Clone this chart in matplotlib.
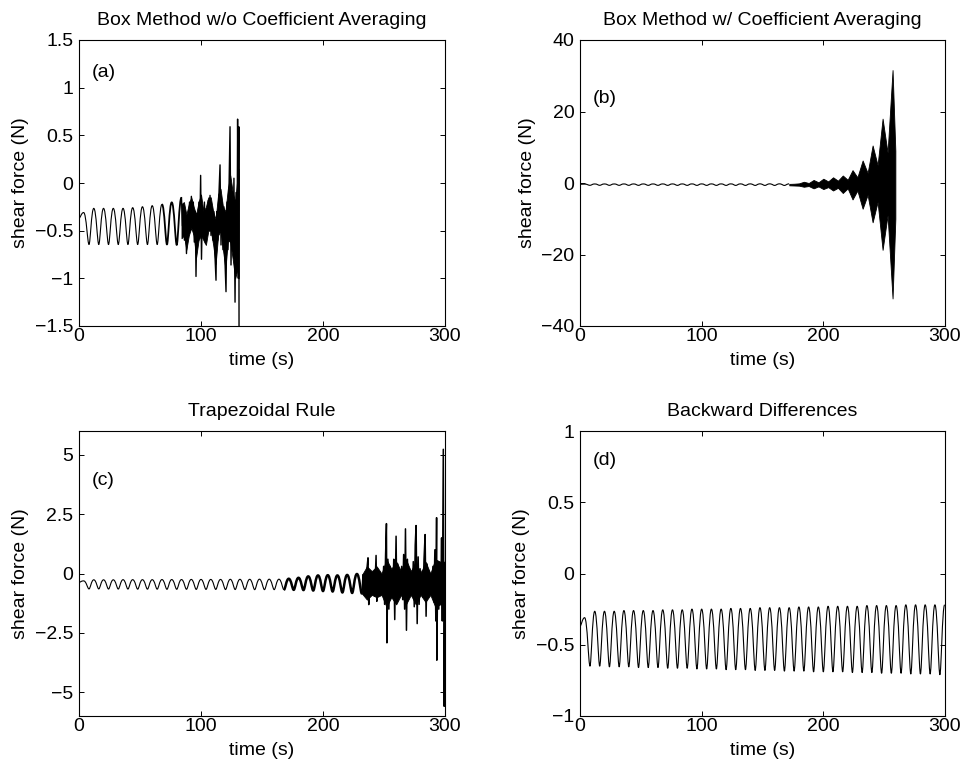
import numpy as np
import matplotlib
matplotlib.use("Agg")
import matplotlib.pyplot as plt
from matplotlib.path import Path
from matplotlib.patches import PathPatch

plt.rcParams['font.family'] = ['Liberation Sans', 'DejaVu Sans']
plt.rcParams['font.size'] = 14

# ---------------- data ----------------
# regular oscillation (Backward Differences), extrema times / values
base_peak_t = [0.0, 3.8, 12.1, 20.1, 28.1, 36.1, 44.0, 52.0, 60.0, 68.0, 76.0, 84.0,
               92.0, 100.0, 108.0, 116.0, 124.0, 131.9, 139.9, 147.9, 155.9, 163.9,
               171.9, 179.9, 187.9, 195.9, 203.9, 211.8, 219.8, 227.8, 235.8, 243.8,
               251.8, 259.8, 267.8, 275.8, 283.7, 291.7, 299.7]
base_peak_v = [-0.37, -0.31,
               -0.265, -0.265, -0.265, -0.26, -0.26, -0.26, -0.26, -0.255, -0.255,
               -0.255, -0.25, -0.25, -0.25, -0.25, -0.245, -0.245, -0.245, -0.24,
               -0.24, -0.24, -0.24, -0.235, -0.235, -0.235, -0.23, -0.23, -0.23,
               -0.23, -0.225, -0.225, -0.225, -0.225, -0.22, -0.22, -0.22, -0.22, -0.22]
base_trough_t = [8.2, 16.2, 24.2, 32.2, 40.1, 48.1, 56.1, 64.1, 72.1, 80.1, 88.1,
                 96.1, 104.1, 112.1, 120.1, 128.0, 136.0, 144.0, 152.0, 160.0, 168.0,
                 176.0, 184.0, 192.0, 200.0, 207.9, 215.9, 223.9, 231.9, 239.9, 247.9,
                 255.9, 263.9, 271.9, 279.8, 287.8, 295.8]
base_trough_v = [-0.65, -0.65, -0.655, -0.655, -0.655, -0.66, -0.66, -0.66, -0.665,
                 -0.665, -0.665, -0.67, -0.67, -0.67, -0.675, -0.675, -0.675, -0.68,
                 -0.68, -0.68, -0.685, -0.685, -0.685, -0.69, -0.69, -0.69, -0.69,
                 -0.695, -0.695, -0.695, -0.70, -0.70, -0.70, -0.705, -0.705, -0.705,
                 -0.71]

# (a) Box method w/o averaging
a_t = [0.0, 3.8, 8.2, 12.1, 16.2, 20.1, 24.2, 28.1, 32.2, 36.1, 40.1, 44.0, 48.1,
       52.0, 56.1, 60.0, 64.1, 68.0, 72.1, 76.0, 80.1, 84.0]
a_v = [-0.37, -0.31, -0.645, -0.266, -0.645, -0.266, -0.645, -0.266, -0.645, -0.266,
       -0.645, -0.259, -0.645, -0.249, -0.645, -0.238, -0.645, -0.224, -0.645, -0.203,
       -0.65, -0.154]
a_band_t = [84, 86, 88, 90, 92, 94, 96, 98, 100, 102, 104, 106, 108, 110, 112, 114,
            116, 118, 120, 122, 124, 126, 128, 130, 131]
a_band_hi = [-0.22, -0.2, -0.33, -0.22, -0.15, -0.25, -0.33, -0.2, -0.12, -0.3, -0.25,
             -0.15, -0.15, -0.3, -0.38, -0.12, -0.06, -0.25, -0.3, -0.06, 0.08, -0.1,
             -0.2, 0.08, 0.15]
a_band_lo = [-0.58, -0.55, -0.7, -0.55, -0.47, -0.55, -0.78, -0.6, -0.55, -0.6, -0.65,
             -0.5, -0.5, -0.65, -0.85, -0.55, -0.5, -0.7, -0.9, -0.6, -0.62, -0.8,
             -1.0, -0.9, -1.0]
a_burst_t = [84.8, 85.6, 86.4, 87.2, 88.1, 89.0, 89.8, 90.6, 91.4, 92.1, 92.9, 93.7,
             94.5, 95.3, 95.9, 96.7, 97.5, 98.3, 99.0, 99.7, 100.4, 101.2, 102.0, 102.8,
             103.6, 104.4, 105.2, 106.0, 106.7, 107.4, 108.2, 109.0, 109.8, 110.6, 111.4,
             112.3, 113.0, 113.8, 114.6, 115.6, 116.4, 117.2, 118.0, 118.8, 119.6, 120.5,
             121.3, 122.1, 122.9, 123.8, 124.6, 125.4, 126.2, 127.0, 127.9, 128.7, 129.5,
             130.0, 130.6, 131.0, 131.3]
a_burst_v = [-0.45, -0.25, -0.60, -0.30, -0.74, -0.35, -0.55, -0.20, -0.50, -0.14, -0.45,
             -0.20, -0.62, -0.30, -0.98, -0.35, -0.60, -0.20, -0.55, 0.08, -0.80, -0.25,
             -0.55, -0.20, -0.63, -0.30, -0.55, -0.18, -0.50, -0.13, -0.55, -0.25, -0.60,
             -0.30, -0.75, -1.02, -0.30, -0.60, -0.15, 0.19, -0.65, -0.20, -0.70, -0.25,
             -0.80, -1.14, -0.20, -0.70, -0.10, 0.59, -0.86, -0.15, -0.70, 0.05, -1.25,
             -0.10, -0.90, 0.67, -1.00, 0.59, -3.00]

# (b) Box method with averaging: envelope of the growing instability
b_env_t = [172, 176, 180, 184, 188, 192, 196, 200, 204, 208, 212, 216, 220, 224, 228,
           232.3, 236.4, 240.5, 244.6, 248.7, 252.8, 256.9, 259.2]
b_env_hi = [-0.25, -0.2, -0.1, 0.35, 0.0, 0.85, 0.2, 1.2, 0.45, 1.6, 0.65, 2.1, 0.9, 3.6,
            1.6, 6.3, 2.8, 10.5, 5.0, 18.0, 8.5, 31.6, 9.0]
b_env_lo = [-0.65, -0.7, -0.75, -1.05, -0.85, -1.5, -0.95, -1.7, -1.15, -2.1, -1.35,
            -2.8, -1.5, -4.6, -2.1, -7.2, -3.3, -11.0, -5.3, -18.7, -9.0, -32.3, -10.0]

# (c) Trapezoidal rule
c_mid_t = [171.9, 176.0, 179.9, 184.0, 187.9, 192.0, 195.9, 200.0, 203.9, 207.9,
           211.8, 215.9, 219.8, 223.9, 227.8, 231.9]
c_mid_v = [-0.22, -0.69, -0.18, -0.70, -0.12, -0.72, -0.08, -0.74, -0.07, -0.76,
           -0.08, -0.80, -0.06, -0.82, -0.02, -0.85]
c_band_t = [232, 236, 240, 244, 248, 252, 256, 260, 264, 268, 272, 276, 280, 284, 288,
            292, 296, 300]
c_band_hi = [-0.05, 0.3, 0.1, 0.3, 0.0, 0.6, 0.2, 0.5, 0.1, 0.6, 0.1, 0.5, 0.0, 0.5,
             0.0, 0.6, 0.5, 0.5]
c_band_lo = [-0.85, -1.1, -0.9, -1.0, -0.9, -1.4, -1.0, -1.3, -0.9, -1.3, -0.9, -1.3,
             -0.9, -1.2, -0.9, -1.4, -1.3, -1.3]
c_burst_t = [232.8, 233.6, 234.4, 235.2, 236.0, 236.9, 237.5, 238.3, 239.1, 239.9,
             240.7, 241.5, 242.3, 243.5, 244.1, 244.9, 245.7, 246.5, 247.3, 248.1,
             248.9, 249.7, 250.5, 251.3, 252.0, 252.4, 253.2, 254.0, 254.8, 255.6,
             256.4, 257.2, 258.0, 258.8, 259.9, 260.5, 261.3, 262.1, 262.9, 263.7,
             264.5, 265.3, 266.1, 266.9, 267.6, 268.4, 269.2, 270.0, 270.8, 271.6,
             272.4, 273.2, 274.0, 274.8, 275.6, 276.3, 277.2, 278.0, 278.8, 279.6,
             280.4, 281.2, 282.0, 282.8, 283.7, 284.5, 285.3, 286.1, 286.9, 287.7,
             288.5, 289.3, 290.1, 290.9, 291.7, 292.5, 293.1, 293.3, 294.1, 294.9,
             295.7, 296.5, 297.2, 297.8, 298.6, 299.3, 300.0]
c_burst_v = [-0.05, -0.75, -0.10, -0.85, 0.20, 0.66, -1.31, -0.05, -0.90, 0.00,
             -0.80, -0.10, -0.95, 0.76, -1.17, -0.20, -0.75, 0.05, -0.85, -0.10,
             -0.90, 0.30, -1.30, 0.80, 2.10, -2.92, 0.60, -1.50, 0.30, -1.00,
             0.10, -0.80, 0.60, -1.94, 1.57, -1.20, 0.40, -0.90, 0.10, -0.80,
             0.30, -1.10, 0.80, -1.50, 1.88, -2.39, 0.60, -1.10, 0.20, -0.80,
             0.00, -0.90, 0.50, -1.40, 1.20, 2.02, -2.11, 0.70, -1.30, 0.20,
             -0.90, 0.10, -1.00, 0.60, 1.64, -1.80, 0.40, -1.00, 0.10, -0.80,
             0.00, -0.90, 0.30, -1.20, 1.00, -2.00, 2.35, -3.65, 0.50, -1.50,
             0.30, -1.00, 1.50, -2.00, 5.23, -5.59, -0.50]

titles = ['Box Method w/o Coefficient Averaging', 'Box Method w/ Coefficient Averaging',
          'Trapezoidal Rule', 'Backward Differences']
tags = ['(a)', '(b)', '(c)', '(d)']
x_ticks = [0, 100, 200, 300]
a_yticks = [-1.5, -1, -0.5, 0, 0.5, 1, 1.5]
b_yticks = [-40, -20, 0, 20, 40]
c_yticks = [-5, -2.5, 0, 2.5, 5]
d_yticks = [-1, -0.5, 0, 0.5, 1]

assert len(base_peak_t) == len(base_peak_v)
assert len(base_trough_t) == len(base_trough_v)
assert len(a_t) == len(a_v) and len(a_burst_t) == len(a_burst_v)
assert len(a_band_t) == len(a_band_hi) == len(a_band_lo)
assert len(b_env_t) == len(b_env_hi) == len(b_env_lo)
assert len(c_mid_t) == len(c_mid_v) and len(c_burst_t) == len(c_burst_v)
assert len(c_band_t) == len(c_band_hi) == len(c_band_lo)

# merge base extrema by time
bt = np.array(base_peak_t + base_trough_t)
bv = np.array(base_peak_v + base_trough_v)
order = np.argsort(bt)
bt, bv = list(bt[order]), list(bv[order])


def wave_path(ts, vs):
    """Smooth curve through successive extrema: broad crests, narrower troughs."""
    verts = [(ts[0], vs[0])]
    codes = [Path.MOVETO]
    for i in range(1, len(ts)):
        x0, y0, x1, y1 = ts[i - 1], vs[i - 1], ts[i], vs[i]
        dx = x1 - x0
        if y1 < y0:   # crest -> trough
            c1 = (x0 + 0.5 * dx, y0)
            c2 = (x1 - 0.28 * dx, y1)
        else:         # trough -> crest
            c1 = (x0 + 0.28 * dx, y0)
            c2 = (x1 - 0.5 * dx, y1)
        verts += [c1, c2, (x1, y1)]
        codes += [Path.CURVE4] * 3
    return Path(verts, codes)


def add_wave(ax, ts, vs, lw):
    ax.add_patch(PathPatch(wave_path(ts, vs), fill=False, edgecolor='k', lw=lw,
                           capstyle='butt', joinstyle='round'))


# ---------------- figure ----------------
fig = plt.figure(figsize=(9.63, 7.70), dpi=100)
W, H = 963, 770
pos = [
    [79 / W, 1 - 326 / H, 366 / W, 286 / H],
    [580 / W, 1 - 326 / H, 365 / W, 286 / H],
    [79 / W, 1 - 716 / H, 366 / W, 285 / H],
    [580 / W, 1 - 716 / H, 365 / W, 285 / H],
]
axes = [fig.add_axes(p) for p in pos]
lw = 0.8

# (a)
ax = axes[0]
add_wave(ax, a_t[:18], a_v[:18], lw)
add_wave(ax, a_t[17:], a_v[17:], 1.3)
ax.fill_between(a_band_t, a_band_lo, a_band_hi, color='k', lw=0.6, edgecolor='k')
ax.plot(a_t[-1:] + a_burst_t, a_v[-1:] + a_burst_v, color='k', lw=1.0)
ax.set_ylim(-1.5, 1.5)
ax.set_yticks(a_yticks)
ax.set_yticklabels(['\u22121.5', '\u22121', '\u22120.5', '0', '0.5', '1', '1.5'])

# (b)
ax = axes[1]
k = sum(1 for t in bt if t <= 172)
add_wave(ax, bt[:k], bv[:k], lw)
ax.fill_between(b_env_t, b_env_lo, b_env_hi, color='k', lw=0.6, edgecolor='k')
ax.set_ylim(-40, 40)
ax.set_yticks(b_yticks)
ax.set_yticklabels(['\u221240', '\u221220', '0', '20', '40'])

# (c)
ax = axes[2]
k = sum(1 for t in bt if t <= 168.5)
add_wave(ax, bt[:k], bv[:k], lw)
add_wave(ax, bt[k - 1:k] + c_mid_t, bv[k - 1:k] + c_mid_v, 1.8)
ax.fill_between(c_band_t, c_band_lo, c_band_hi, color='k', lw=0.6, edgecolor='k')
ax.plot(c_mid_t[-1:] + c_burst_t, c_mid_v[-1:] + c_burst_v, color='k', lw=1.1)
ax.set_ylim(-6, 6)
ax.set_yticks(c_yticks)
ax.set_yticklabels(['\u22125', '\u22122.5', '0', '2.5', '5'])

# (d)
ax = axes[3]
add_wave(ax, bt, bv, lw)
ax.set_ylim(-1, 1)
ax.set_yticks(d_yticks)
ax.set_yticklabels(['\u22121', '\u22120.5', '0', '0.5', '1'])

tag_y = [0.888, 0.796, 0.827, 0.897]
for ax, title, tag, ty in zip(axes, titles, tags, tag_y):
    ax.set_xlim(0, 300)
    ax.set_xticks(x_ticks)
    ax.set_title(title, fontsize=14, pad=11)
    ax.set_xlabel('time (s)', labelpad=5)
    ax.set_ylabel('shear force (N)', labelpad=4)
    ax.text(0.034, ty, tag, transform=ax.transAxes, ha='left', va='center')
    ax.tick_params(direction='in', length=3.5, width=0.7, top=True, right=True)
    ax.tick_params(axis='x', pad=1.5)
    ax.tick_params(axis='y', pad=4)
    for s in ax.spines.values():
        s.set_linewidth(0.8)

fig.savefig('out.png', dpi=100, facecolor='white')
